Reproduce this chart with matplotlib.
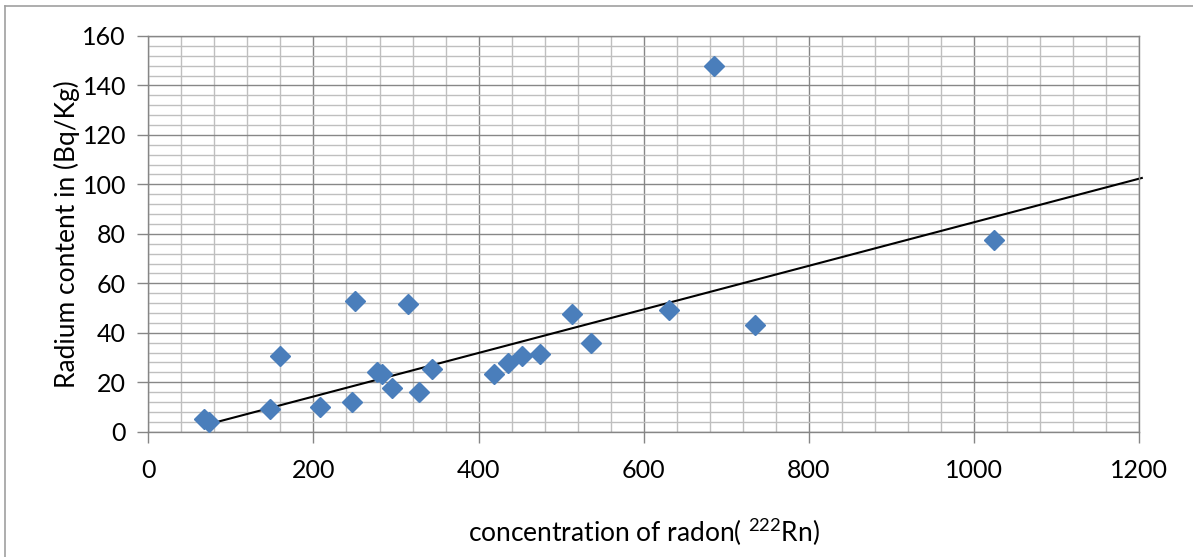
import numpy as np
import matplotlib
matplotlib.use("Agg")
import matplotlib.pyplot as plt
from matplotlib.lines import Line2D
from matplotlib.ticker import MultipleLocator

plt.rcParams['font.family'] = ['Lato', 'DejaVu Sans']
plt.rcParams['mathtext.fontset'] = 'custom'
plt.rcParams['mathtext.rm'] = 'Lato'

# Data
radon = [67, 73, 147, 159, 208, 247, 250, 277, 283, 295, 314, 328, 344,
         419, 435, 453, 474, 513, 536, 630, 685, 735, 1024]
radium = [5.3, 4.0, 9.1, 30.7, 10.1, 11.9, 52.9, 24.3, 23.2, 17.5, 51.5, 15.9, 25.2,
          23.3, 27.7, 30.6, 31.4, 47.5, 36.0, 49.2, 147.9, 43.1, 77.6]
x_ticks = [0, 200, 400, 600, 800, 1000, 1200]
y_ticks = [0, 20, 40, 60, 80, 100, 120, 140, 160]
# Linear trend line as drawn in the chart
trend_slope = 0.0881
trend_intercept = -3.4
trend_x = [79, 1203]

fig = plt.figure(figsize=(11.93, 5.57), dpi=100)
ax = fig.add_axes([0.1243, 0.2250, 0.955 - 0.1243, 0.9354 - 0.2250])

ax.set_xlim(0, 1200)
ax.set_ylim(0, 160)
ax.xaxis.set_minor_locator(MultipleLocator(40))
ax.yaxis.set_minor_locator(MultipleLocator(4))
ax.set_xticks(x_ticks)
ax.set_yticks(y_ticks)
ax.set_xticklabels([str(v) for v in x_ticks])
ax.set_yticklabels([str(v) for v in y_ticks])

ax.grid(which='major', color='#878787', linewidth=1.0, zorder=0)
ax.grid(which='minor', color='#BFBFBF', linewidth=1.0, zorder=0)
ax.set_axisbelow(True)

for s in ax.spines.values():
    s.set_color('#868686')
    s.set_linewidth(1.0)

ax.tick_params(which='major', direction='out', length=8, width=1, color='#868686',
               labelsize=18, labelcolor='black')
ax.tick_params(which='minor', length=0)
ax.tick_params(axis='x', pad=12)
ax.tick_params(axis='y', pad=8)

tx = np.array(trend_x, dtype=float)
ax.plot(tx, trend_slope * tx + trend_intercept, color='black', linewidth=1.5,
        zorder=2, clip_on=False)

ax.plot(radon, radium, linestyle='none', marker='D', markersize=10.5,
        color='#4A7EBB', markeredgecolor='#4A7EBB', zorder=3)

ax.set_xlabel(r'concentration of radon( $\mathregular{^{222}}$Rn)', fontsize=19, labelpad=24)
ax.set_ylabel('Radium content in (Bq/Kg)', fontsize=19, labelpad=2)

# Outer chart border (top and left visible)
fig.add_artist(Line2D([5/1193, 1.0], [1 - 6/557, 1 - 6/557], color='#A0A0A0', linewidth=1.2,
                      transform=fig.transFigure))
fig.add_artist(Line2D([5/1193, 5/1193], [1 - 6/557, 0.0], color='#A0A0A0', linewidth=1.2,
                      transform=fig.transFigure))

fig.savefig('out.png', dpi=100)
